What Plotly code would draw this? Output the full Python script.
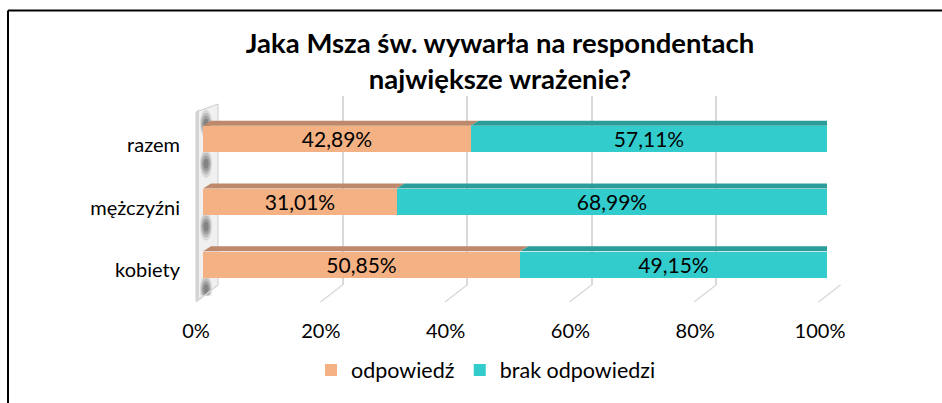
import plotly.graph_objects as go

categories = ["kobiety", "mężczyźni", "razem"]
odpowiedz = [0.5085, 0.3101, 0.4289]
brak_odpowiedzi = [0.4915, 0.6899, 0.5711]
series_names = ["odpowiedź", "brak odpowiedzi"]
tick_values = [0, 0.2, 0.4, 0.6, 0.8, 1.0]
title_text = "Jaka Msza św. wywarła na respondentach<br>największe wrażenie?"

FONT = "Lato"
W, H = 942, 403
ML, MR, MT, MB = 194, 101, 96, 101
PW = W - ML - MR
PH = H - MT - MB

def fx(px):
    return (px - ML) / PW

def fy(py):
    return (H - MB - py) / PH

BAR_X0, BAR_X1 = 203, 827
GRID_X0, GRID_X1 = 218, 840.5
BAR_TOP, BAR_BOT = 107.5, 295.5
GRID_TOP, GRID_BOT = 96, 285
DEPTH_X, DEPTH_Y = 8, 5
px_per_unit = BAR_X1 - BAR_X0
dx = DEPTH_X / px_per_unit
half_h = 13

orange = "#F4B183"
orange_top = "#BE896A"
teal = "#33CCCC"
teal_top = "#2A9D9B"
teal_side = "#23837F"

idx = list(range(len(categories)))

def grid_paper(v):
    return fx(GRID_X0) + v * (fx(GRID_X1) - fx(GRID_X0))

fig = go.Figure()
fig.add_trace(go.Scatter(x=[], y=[], xaxis="x", yaxis="y", showlegend=False, hoverinfo="skip"))
for vals, name, col in [(odpowiedz, series_names[0], orange), (brak_odpowiedzi, series_names[1], teal)]:
    fig.add_trace(go.Bar(
        y=idx, x=vals, name=name, orientation="h",
        marker=dict(color=col, line=dict(width=0)), width=0.416,
        xaxis="x2", yaxis="y2",
        texttemplate="%{x:.2%}", textposition="inside", insidetextanchor="middle",
        constraintext="none", textangle=0,
        textfont=dict(family=FONT, size=21, color="black"),
    ))

shapes = []
# left wall slab
x_wall = grid_paper(0)
shapes.append(dict(
    type="path", layer="below", xref="paper", yref="paper", xsizemode="pixel", xanchor=x_wall,
    path=f"M 0,{fy(104)} L 0,{fy(GRID_BOT)} L -22,{fy(301)} L -22,{fy(112)} Z",
    fillcolor="#f0f0f0", line=dict(color="#cccccc", width=1),
))
shapes.append(dict(
    type="path", layer="below", xref="paper", yref="paper", xsizemode="pixel", xanchor=x_wall,
    path=f"M -19,{fy(109)} L -19,{fy(298)} L -22,{fy(301)} L -22,{fy(112)} Z",
    fillcolor="#d4d4d4", line=dict(width=0),
))
# soft wall shadows next to bars (below each bar and above the top one)
x_bar0 = fx(BAR_X0)
blob_centres = [(i, -half_h - 12) for i in idx] + [(idx[-1], half_h + 2)]
for (i, cy) in blob_centres:
    for w, h, op in [(6, 14, 0.12), (5, 11, 0.16), (4, 8, 0.2), (2.5, 5, 0.25)]:
        shapes.append(dict(
            type="circle", layer="below", xref="paper", yref="y2",
            xsizemode="pixel", ysizemode="pixel", xanchor=x_bar0, yanchor=i,
            x0=3 - w, x1=3 + w, y0=cy - h, y1=cy + h,
            fillcolor="#303030", opacity=op, line=dict(width=0),
        ))
# floor diagonals from gridlines
for v in tick_values:
    shapes.append(dict(
        type="line", layer="below", xref="paper", yref="paper", xsizemode="pixel", xanchor=grid_paper(v),
        x0=0, x1=-22, y0=fy(GRID_BOT), y1=fy(302),
        line=dict(color="#d9d9d9", width=1.5),
    ))
# 3D top faces and side face
for i in idx:
    a = odpowiedz[i]
    t = a + brak_odpowiedzi[i]
    for (s0, s1, col) in [(0, a, orange_top), (a, t, teal_top)]:
        shapes.append(dict(
            type="path", layer="above", xref="x2", yref="y2", ysizemode="pixel", yanchor=i,
            path=f"M {s0},{half_h} L {s1},{half_h} L {s1+dx},{half_h+DEPTH_Y} L {s0+dx},{half_h+DEPTH_Y} Z",
            fillcolor=col, line=dict(width=0),
        ))
    shapes.append(dict(
        type="path", layer="above", xref="x2", yref="y2", ysizemode="pixel", yanchor=i,
        path=f"M {t},{half_h} L {t},{-half_h} L {t+dx},{-half_h+DEPTH_Y} L {t+dx},{half_h+DEPTH_Y} Z",
        fillcolor=teal_side, line=dict(width=0),
    ))
# outer border (top and left)
shapes.append(dict(type="line", xref="paper", yref="paper", x0=fx(8), x1=fx(960), y0=fy(10.5), y1=fy(10.5),
                   line=dict(color="black", width=2), layer="above"))
shapes.append(dict(type="line", xref="paper", yref="paper", x0=fx(8), x1=fx(8), y0=fy(10.5), y1=fy(420),
                   line=dict(color="black", width=2), layer="above"))

fig.update_layout(
    width=W, height=H,
    margin=dict(l=ML, r=MR, t=MT, b=MB),
    paper_bgcolor="white", plot_bgcolor="rgba(0,0,0,0)",
    separators=", ",
    barmode="stack", bargap=0,
    font=dict(family=FONT, color="black"),
    title=dict(text=title_text, x=500 / W, xanchor="center", xref="container",
               y=1 - 53 / H, yanchor="top", yref="container",
               font=dict(family=FONT, size=27.5, color="black", weight="bold")),
    xaxis=dict(domain=[fx(GRID_X0), fx(GRID_X1)], range=[0, 1], anchor="y",
               showgrid=True, gridcolor="#d9d9d9", gridwidth=1.5, tickvals=tick_values,
               showticklabels=False, zeroline=False, showline=False, ticks=""),
    yaxis=dict(domain=[fy(GRID_BOT), fy(GRID_TOP)], range=[0, 1], anchor="x",
               visible=False, showgrid=False, zeroline=False),
    xaxis2=dict(domain=[fx(BAR_X0), fx(BAR_X1)], range=[0, 1], anchor="y2",
                showgrid=False, zeroline=False, showline=False, ticks="",
                tickformat=".0%", tickvals=tick_values,
                tickfont=dict(family=FONT, size=20, color="black"),
                ticklabelshift=-7, ticklabelstandoff=21),
    yaxis2=dict(domain=[fy(BAR_BOT), fy(BAR_TOP)], range=[-0.5, 2.5], anchor="x2",
                tickvals=idx, ticktext=categories,
                showgrid=False, zeroline=False, showline=False, ticks="",
                tickfont=dict(family=FONT, size=20, color="black"),
                ticklabelshift=6, ticklabelstandoff=22),
    legend=dict(orientation="h", x=fx(486), xanchor="center", y=fy(370), yanchor="middle",
                font=dict(family=FONT, size=21.5, color="black"), traceorder="normal",
                itemwidth=30, bgcolor="rgba(0,0,0,0)"),
    shapes=shapes,
)

fig.write_html("out.html", config={"displayModeBar": False},
               post_script="document.body.style.margin='0';document.body.style.overflow='hidden';")
